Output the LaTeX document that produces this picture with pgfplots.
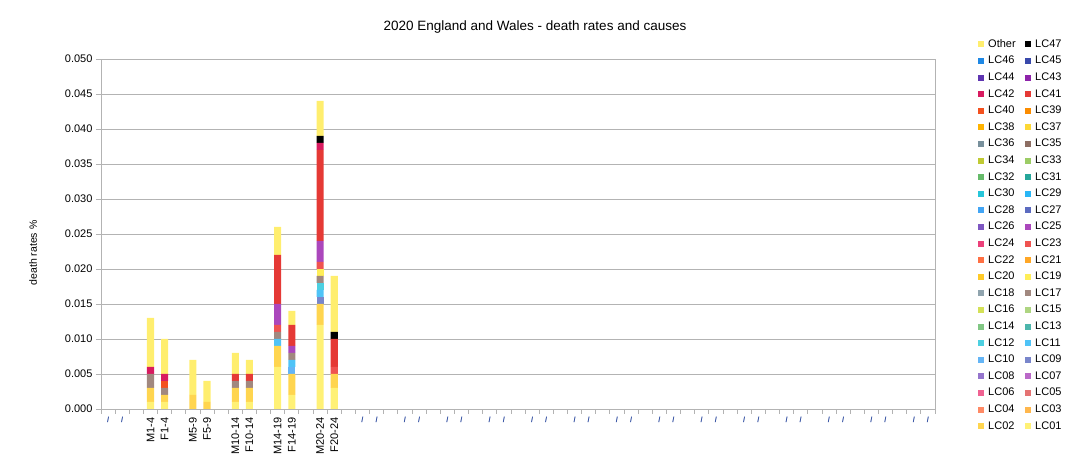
\documentclass[border=0pt]{standalone}
\usepackage{pgfplots}
\pgfplotsset{compat=1.18}
\usepackage{pgfplotstable}
\usepackage{fontspec}
\setmainfont{Liberation Sans}
\definecolor{cOther}{HTML}{FFEE6E}
\definecolor{cLC47}{HTML}{000000}
\definecolor{cLC46}{HTML}{1E88E5}
\definecolor{cLC45}{HTML}{3949AB}
\definecolor{cLC44}{HTML}{5E35B1}
\definecolor{cLC43}{HTML}{8E24AA}
\definecolor{cLC42}{HTML}{D81B60}
\definecolor{cLC41}{HTML}{E53935}
\definecolor{cLC40}{HTML}{F4511E}
\definecolor{cLC39}{HTML}{FB8C00}
\definecolor{cLC38}{HTML}{FFB300}
\definecolor{cLC37}{HTML}{FDD835}
\definecolor{cLC36}{HTML}{78909C}
\definecolor{cLC35}{HTML}{8D6E63}
\definecolor{cLC34}{HTML}{C0CA33}
\definecolor{cLC33}{HTML}{9CCC65}
\definecolor{cLC32}{HTML}{66BB6A}
\definecolor{cLC31}{HTML}{26A69A}
\definecolor{cLC30}{HTML}{26C6DA}
\definecolor{cLC29}{HTML}{29B6F6}
\definecolor{cLC28}{HTML}{42A5F5}
\definecolor{cLC27}{HTML}{5C6BC0}
\definecolor{cLC26}{HTML}{7E57C2}
\definecolor{cLC25}{HTML}{AB47BC}
\definecolor{cLC24}{HTML}{EC407A}
\definecolor{cLC23}{HTML}{EF5350}
\definecolor{cLC22}{HTML}{FF7043}
\definecolor{cLC21}{HTML}{FFA726}
\definecolor{cLC20}{HTML}{FFCA28}
\definecolor{cLC19}{HTML}{FFEE58}
\definecolor{cLC18}{HTML}{90A4AE}
\definecolor{cLC17}{HTML}{A1887F}
\definecolor{cLC16}{HTML}{D4E157}
\definecolor{cLC15}{HTML}{AED581}
\definecolor{cLC14}{HTML}{81C784}
\definecolor{cLC13}{HTML}{4DB6AC}
\definecolor{cLC12}{HTML}{4DD0E1}
\definecolor{cLC11}{HTML}{4FC3F7}
\definecolor{cLC10}{HTML}{64B5F6}
\definecolor{cLC09}{HTML}{7986CB}
\definecolor{cLC08}{HTML}{9575CD}
\definecolor{cLC07}{HTML}{BA68C8}
\definecolor{cLC06}{HTML}{F06292}
\definecolor{cLC05}{HTML}{E57373}
\definecolor{cLC04}{HTML}{FF8A65}
\definecolor{cLC03}{HTML}{FFB74D}
\definecolor{cLC02}{HTML}{FFD54F}
\definecolor{cLC01}{HTML}{FFF176}
\definecolor{cGrid}{HTML}{B3B3B3}
\definecolor{cTm}{HTML}{1F3F99}
\newcommand\tm{\rotatebox{-90}{\color{cTm}\fontsize{7.5}{8}\selectfont\bfseries /}}
\pgfplotsset{lsq/.style={legend image code/.code={\fill[##1] (0pt,-3pt) rectangle (6pt,3pt);}}}
\newcommand\legsq[1]{\addlegendimage{lsq, fill=c#1, draw=none}\addlegendentry{\makebox[33pt][l]{#1}}}

\pgfplotstableread{
x  LC01  LC02  LC09  LC10  LC11  LC12  LC17  LC19  LC23  LC25  LC40  LC41  LC42  LC47  Other
3  0.001 0.002 0     0     0     0     0.002 0     0     0     0     0     0.001 0     0.007
4  0.001 0.001 0     0     0     0     0.001 0     0     0     0.001 0     0.001 0     0.005
6  0     0.002 0     0     0     0     0     0     0     0     0     0     0     0     0.005
7  0     0.001 0     0     0     0     0     0     0     0     0     0     0     0     0.003
9  0.001 0.002 0     0     0     0     0.001 0     0     0     0     0.001 0     0     0.003
10 0.001 0.002 0     0     0     0     0.001 0     0     0     0     0.001 0     0     0.002
12 0.006 0.003 0     0     0.001 0     0.001 0     0.001 0.003 0     0.007 0     0     0.004
13 0.002 0.003 0     0.001 0.001 0     0.001 0     0     0.001 0     0.003 0     0     0.002
15 0.012 0.003 0.001 0     0.001 0.001 0.001 0.001 0.001 0.003 0     0.013 0.001 0.001 0.005
16 0.003 0.002 0     0     0     0     0     0     0.001 0     0     0.004 0     0.001 0.008
}\datatable

\begin{document}
\begin{tikzpicture}
\path[use as bounding box] (-101pt,-59pt) rectangle (968pt,409pt);
\begin{axis}[
  at={(0pt,0pt)}, anchor=south west,
  scale only axis, width=834pt, height=350pt,
  ybar stacked, bar width=0.5,
  xmin=-0.5, xmax=58.5, ymin=0, ymax=0.05,
  ytick={0,0.005,0.01,0.015,0.02,0.025,0.03,0.035,0.04,0.045,0.05},
  scaled y ticks=false,
  yticklabel style={font=\fontsize{11}{13}\selectfont, /pgf/number format/.cd, fixed, fixed zerofill, precision=3, assume math mode=true},
  ymajorgrids, grid style={cGrid, line width=0.8pt},
  axis line style={cGrid, line width=0.8pt},
  tick style={cGrid, line width=0.8pt},
  tick align=outside, tick pos=left,
  major tick length=5pt, minor tick length=5pt,
  major x tick style={draw=none},
  xtick={0,...,58},
  minor xtick={-0.5,0.5,...,58.5},
  xticklabels={\tm,\tm,{},M1-4,F1-4,{},M5-9,F5-9,{},M10-14,F10-14,{},M14-19,F14-19,{},M20-24,F20-24,{},
    \tm,\tm,{},\tm,\tm,{},\tm,\tm,{},\tm,\tm,{},\tm,\tm,{},\tm,\tm,{},\tm,\tm,{},
    \tm,\tm,{},\tm,\tm,{},\tm,\tm,{},\tm,\tm,{},\tm,\tm,{},\tm,\tm,{},\tm,\tm},
  xticklabel style={rotate=90, anchor=east, font=\fontsize{11}{13}\selectfont},
  legend columns=2,
  legend cell align=left,
  legend style={at={(1.048,1.0623)}, anchor=north west, draw=none, fill=none,
    font=\fontsize{11}{13}\selectfont,
    nodes={inner sep=0pt, text height=8pt, text depth=2pt},
    row sep=6.6pt, column sep=4pt},
]
\legsq{Other}\legsq{LC47}\legsq{LC46}\legsq{LC45}\legsq{LC44}\legsq{LC43}\legsq{LC42}\legsq{LC41}
\legsq{LC40}\legsq{LC39}\legsq{LC38}\legsq{LC37}\legsq{LC36}\legsq{LC35}\legsq{LC34}\legsq{LC33}
\legsq{LC32}\legsq{LC31}\legsq{LC30}\legsq{LC29}\legsq{LC28}\legsq{LC27}\legsq{LC26}\legsq{LC25}
\legsq{LC24}\legsq{LC23}\legsq{LC22}\legsq{LC21}\legsq{LC20}\legsq{LC19}\legsq{LC18}\legsq{LC17}
\legsq{LC16}\legsq{LC15}\legsq{LC14}\legsq{LC13}\legsq{LC12}\legsq{LC11}\legsq{LC10}\legsq{LC09}
\legsq{LC08}\legsq{LC07}\legsq{LC06}\legsq{LC05}\legsq{LC04}\legsq{LC03}\legsq{LC02}\legsq{LC01}
\addplot[fill=cLC01, draw=none, forget plot] table[x=x, y=LC01]{\datatable};
\addplot[fill=cLC02, draw=none, forget plot] table[x=x, y=LC02]{\datatable};
\addplot[fill=cLC09, draw=none, forget plot] table[x=x, y=LC09]{\datatable};
\addplot[fill=cLC10, draw=none, forget plot] table[x=x, y=LC10]{\datatable};
\addplot[fill=cLC11, draw=none, forget plot] table[x=x, y=LC11]{\datatable};
\addplot[fill=cLC12, draw=none, forget plot] table[x=x, y=LC12]{\datatable};
\addplot[fill=cLC17, draw=none, forget plot] table[x=x, y=LC17]{\datatable};
\addplot[fill=cLC19, draw=none, forget plot] table[x=x, y=LC19]{\datatable};
\addplot[fill=cLC23, draw=none, forget plot] table[x=x, y=LC23]{\datatable};
\addplot[fill=cLC25, draw=none, forget plot] table[x=x, y=LC25]{\datatable};
\addplot[fill=cLC40, draw=none, forget plot] table[x=x, y=LC40]{\datatable};
\addplot[fill=cLC41, draw=none, forget plot] table[x=x, y=LC41]{\datatable};
\addplot[fill=cLC42, draw=none, forget plot] table[x=x, y=LC42]{\datatable};
\addplot[fill=cLC47, draw=none, forget plot] table[x=x, y=LC47]{\datatable};
\addplot[fill=cOther, draw=none, forget plot] table[x=x, y=Other]{\datatable};
\end{axis}
\node[font=\fontsize{13.5}{16}\selectfont] at (434pt,382pt) {2020 England and Wales - death rates and causes};
\node[rotate=90, font=\fontsize{10.5}{12}\selectfont] at (-68pt,156pt) {death rates \%};
\end{tikzpicture}
\end{document}
